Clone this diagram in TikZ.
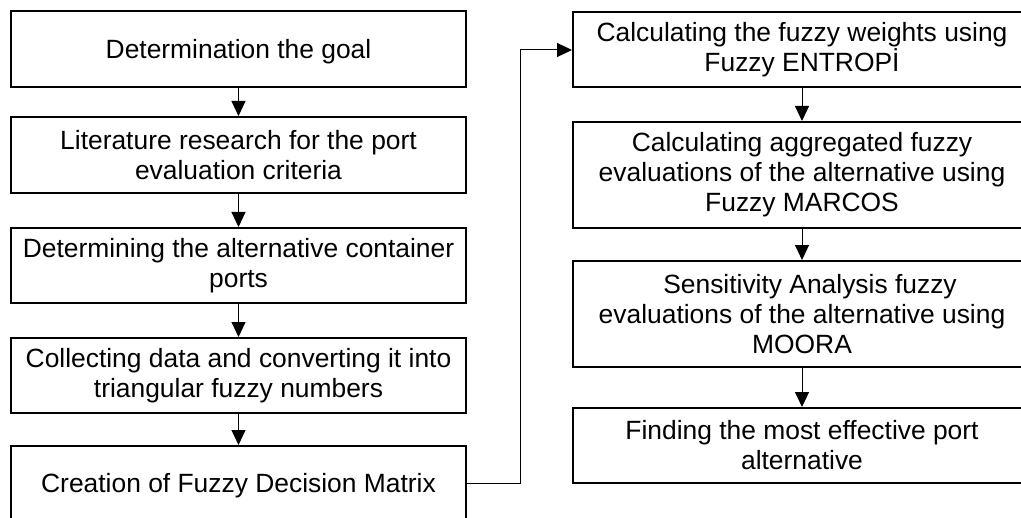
\documentclass[tikz,border=0pt]{standalone}
\usepackage{fontspec}
\setmainfont{Liberation Sans}
\usetikzlibrary{arrows.meta}
\begin{document}
\begin{tikzpicture}[x=0.5pt,y=-0.5pt,
  box/.style={draw,line width=1pt,rectangle,inner sep=0pt,align=center,
    font=\fontsize{13.2pt}{15pt}\selectfont},
  lbox/.style={box,minimum width=227.5pt},
  rbox/.style={box,minimum width=229pt},
  oneline/.style={text depth=0pt},
  conn/.style={line width=0.5pt,-{Triangle[width=7pt,length=7.5pt]}}]
\useasboundingbox (0,0) rectangle (1021,518);
\clip (0,0) rectangle (1021,518);
\fill[white] (0,0) rectangle (1021,518);
% left column
\node[lbox,oneline,minimum height=38pt] (b1) at (238.5,49) {Determination the goal};
\node[lbox,minimum height=38pt] (b2) at (238.5,155) {Literature research for the port\\evaluation criteria};
\node[lbox,minimum height=37.5pt] (b3) at (238.5,265.5) {Determining the alternative container\\ports};
\node[lbox,minimum height=37.5pt] (b4) at (238.5,375.5) {Collecting data and converting it into\\triangular fuzzy numbers};
\node[lbox,oneline,minimum height=37pt] (b5) at (238.5,483) {Creation of Fuzzy Decision Matrix};
% right column
\node[rbox,minimum height=37.5pt] (r1) at (802,50) {Calculating the fuzzy weights using\\Fuzzy ENTROPİ};
\node[rbox,minimum height=53pt] (r2) at (802,175) {Calculating aggregated fuzzy\\evaluations of the alternative using\\Fuzzy MARCOS};
\node[rbox,minimum height=53pt] (r3) at (802,314) {\hspace*{8pt}Sensitivity Analysis fuzzy\\evaluations of the alternative using\\MOORA};
\node[rbox,minimum height=37.5pt] (r4) at (802,445.5) {Finding the most effective port\\alternative};
% connectors
\draw[conn] (b1) -- (b2);
\draw[conn] (b2) -- (b3);
\draw[conn] (b3) -- (b4);
\draw[conn] (b4) -- (b5);
\draw[conn] (b5.east) -- ++(53,0) |- (r1.west);
\draw[conn] (r1) -- (r2);
\draw[conn] (r2) -- (r3);
\draw[conn] (r3) -- (r4);
\end{tikzpicture}
\end{document}
